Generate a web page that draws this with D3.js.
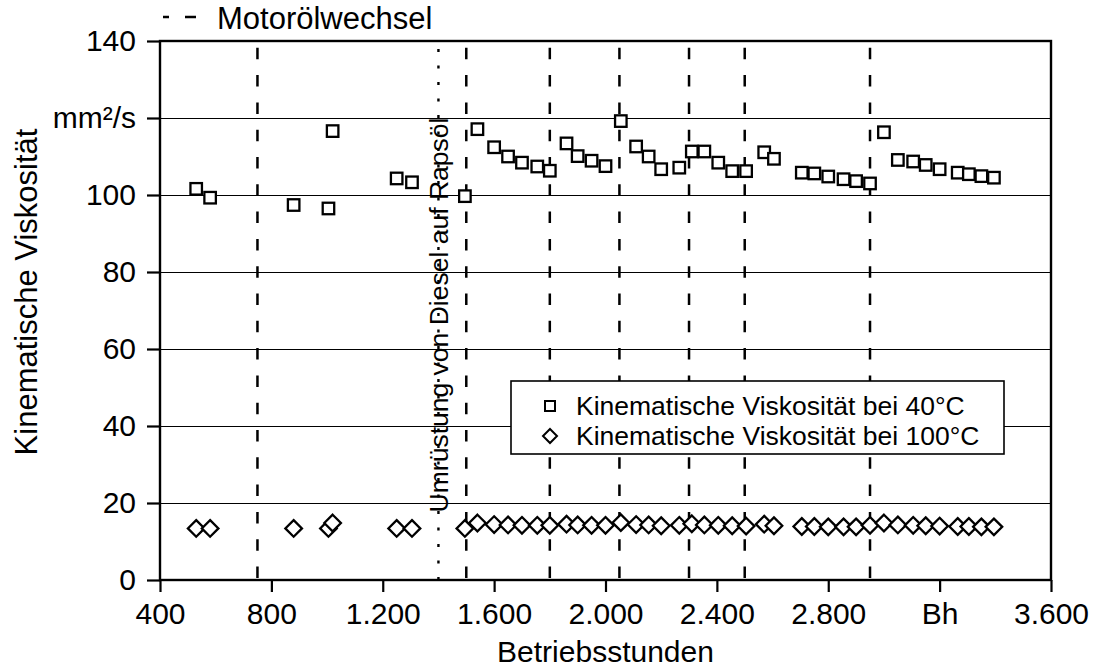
<!DOCTYPE html>
<html><head><meta charset="utf-8">
<script src="https://cdn.jsdelivr.net/npm/d3@7/dist/d3.min.js"></script>
<style>body{margin:0;background:#fff}text{font-family:"Liberation Sans",Arial,sans-serif;fill:#000}</style>
</head><body><svg id="c" width="1097" height="668"></svg>
<script>
const hours = [530,580,880,1005,1020,1250,1305,1495,1540,1600,1650,1700,1755,1800,1860,1900,1950,2000,2055,2110,2155,2200,2265,2310,2355,2405,2455,2505,2570,2605,2705,2750,2800,2855,2900,2950,3000,3050,3105,3150,3200,3265,3305,3350,3395];
const visc40 = [101.6,99.3,97.4,96.5,116.6,104.3,103.3,99.7,117.1,112.4,110.0,108.4,107.4,106.3,113.4,110.1,108.9,107.5,119.2,112.6,110.0,106.7,107.1,111.3,111.3,108.4,106.2,106.2,111.1,109.4,105.8,105.6,104.8,104.1,103.6,103.0,116.3,109.1,108.7,107.8,106.7,105.8,105.4,104.9,104.5];
const visc100 = [13.4,13.4,13.4,13.4,14.8,13.4,13.4,13.4,14.8,14.4,14.3,14.2,14.2,14.2,14.5,14.3,14.2,14.2,14.9,14.4,14.3,14.1,14.2,14.6,14.3,14.2,14.1,14.0,14.5,14.1,13.9,13.9,13.8,13.8,13.8,14.2,14.8,14.3,14.2,14.1,14.0,13.9,13.9,13.8,13.8];
const oilChanges = [750,1500,1800,2050,2300,2500,2950];
const conversion = 1400;
const xTicks = [400,800,1200,1600,2000,2400,2800,3200,3600];
const xTickLabels = ["400","800","1.200","1.600","2.000","2.400","2.800","Bh","3.600"];
const yTicks = [0,20,40,60,80,100,120,140];
const yTickLabels = ["0","20","40","60","80","100","mm²/s","140"];
const seriesNames = ["Kinematische Viskosität bei 40°C","Kinematische Viskosität bei 100°C"];

const svg = d3.select("#c");
const L=160,R=1051,T=41,B=580;
const x = d3.scaleLinear().domain([400,3600]).range([L,R]);
const y = d3.scaleLinear().domain([0,140]).range([B,T]);

// grid
svg.append("g").selectAll("line").data(yTicks.filter(v=>v>0&&v<140)).join("line")
  .attr("x1",L).attr("x2",R).attr("y1",d=>Math.round(y(d))+0.5).attr("y2",d=>Math.round(y(d))+0.5)
  .attr("stroke","#000").attr("stroke-width",1);

// oil change lines
svg.append("g").selectAll("line").data(oilChanges).join("line")
  .attr("x1",d=>x(d)).attr("x2",d=>x(d)).attr("y1",B-2).attr("y2",T)
  .attr("stroke","#000").attr("stroke-width",2.5).attr("stroke-dasharray","11.5,15.8");
svg.append("line").attr("x1",x(conversion)).attr("x2",x(conversion)).attr("y1",B).attr("y2",T)
  .attr("stroke","#000").attr("stroke-width",2.4).attr("stroke-dasharray","3,13.5");

// conversion label
svg.append("text").attr("transform",`translate(448,${315}) rotate(-90)`)
  .attr("text-anchor","middle").attr("font-size",26.5).text("Umrüstung von Diesel auf Rapsöl");

// frame
svg.append("rect").attr("x",L).attr("y",T).attr("width",R-L).attr("height",B-T)
  .attr("fill","none").attr("stroke","#000").attr("stroke-width",2.4);

// axes
const yAxis = d3.axisLeft(y).tickValues(yTicks).tickFormat((d,i)=>yTickLabels[i]).tickSize(13).tickPadding(11);
const gy = svg.append("g").attr("transform",`translate(${L},0)`).call(yAxis);
gy.select(".domain").remove();
gy.selectAll(".tick line").attr("stroke","#000").attr("stroke-width",2.2);
gy.selectAll(".tick text").attr("font-size",30).attr("font-family","Liberation Sans, Arial, sans-serif").attr("fill","#000");

const xAxis = d3.axisBottom(x).tickValues(xTicks).tickFormat((d,i)=>xTickLabels[i]).tickSize(12).tickPadding(11);
const gx = svg.append("g").attr("transform",`translate(0,${B})`).call(xAxis);
gx.select(".domain").remove();
gx.selectAll(".tick line").attr("stroke","#000").attr("stroke-width",2.2);
gx.selectAll(".tick text").attr("font-size",30).attr("font-family","Liberation Sans, Arial, sans-serif").attr("fill","#000");

// titles
svg.append("text").attr("x",(L+R)/2).attr("y",662).attr("text-anchor","middle").attr("font-size",30).text("Betriebsstunden");
svg.append("text").attr("transform","translate(37,292) rotate(-90)").attr("text-anchor","middle").attr("font-size",31).text("Kinematische Viskosität");

// data
const pts = hours.map((h,i)=>({h,v40:visc40[i],v100:visc100[i]}));
const sq=11.5, dm=8.3;
svg.append("g").selectAll("rect").data(pts).join("rect")
  .attr("x",d=>x(d.h)-sq/2).attr("y",d=>y(d.v40)-sq/2).attr("width",sq).attr("height",sq)
  .attr("fill","#fff").attr("stroke","#000").attr("stroke-width",2.3);
const diamond = (cx,cy,r)=>`M${cx},${cy-r}L${cx+r},${cy}L${cx},${cy+r}L${cx-r},${cy}Z`;
svg.append("g").selectAll("path").data(pts).join("path")
  .attr("d",d=>diamond(x(d.h),y(d.v100),dm))
  .attr("fill","#fff").attr("stroke","#000").attr("stroke-width",2.3);

// top legend
svg.append("line").attr("x1",163).attr("x2",196).attr("y1",17).attr("y2",17)
  .attr("stroke","#000").attr("stroke-width",2.6).attr("stroke-dasharray","6,16,11,100");
svg.append("text").attr("x",217).attr("y",29).attr("font-size",31).text("Motorölwechsel");

// series legend
const lg = svg.append("g");
lg.append("rect").attr("x",511).attr("y",381).attr("width",493).attr("height",73)
  .attr("fill","#fff").attr("stroke","#000").attr("stroke-width",1.6);
lg.append("rect").attr("x",550-5).attr("y",406-5).attr("width",10).attr("height",10)
  .attr("fill","#fff").attr("stroke","#000").attr("stroke-width",2);
lg.append("path").attr("d",diamond(550,436,7)).attr("fill","#fff").attr("stroke","#000").attr("stroke-width",2);
lg.selectAll("text").data(seriesNames).join("text")
  .attr("x",576).attr("y",(d,i)=>406+i*30).attr("dy","0.35em").attr("font-size",26.5).text(d=>d);
</script></body></html>
